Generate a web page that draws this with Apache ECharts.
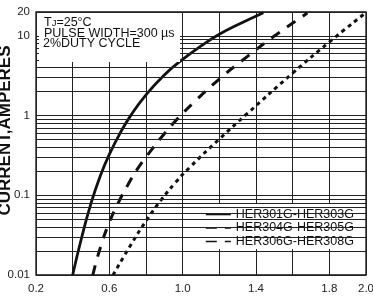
<!DOCTYPE html>
<html>
<head>
<meta charset="utf-8">
<script src="https://cdn.jsdelivr.net/npm/echarts@6/dist/echarts.min.js"></script>
<style>
html,body{margin:0;padding:0;background:#fff;}
#c{width:373px;height:299px;}
</style>
</head>
<body>
<div id="c"></div>
<script>
// ---- data ----
const seriesNames = ['HER301G-HER303G', 'HER304G-HER305G', 'HER306G-HER308G'];
const solidCurve = [[0.40,0.01],[0.45,0.0302],[0.50,0.0794],[0.55,0.174],[0.60,0.327],[0.66,0.61],[0.72,1.03],[0.80,1.82],[0.90,3.24],[1.0,5.08],[1.1,7.5],[1.2,10.5],[1.3,13.8],[1.44,19.6]];
const dashedCurve = [[0.51,0.01],[0.55,0.0217],[0.60,0.0458],[0.65,0.0815],[0.70,0.134],[0.76,0.226],[0.83,0.372],[0.90,0.594],[0.97,0.904],[1.05,1.39],[1.2,2.88],[1.35,5.46],[1.5,9.98],[1.68,19.4]];
const dottedCurve = [[0.62,0.01],[0.72,0.0245],[0.80,0.0476],[0.88,0.086],[0.96,0.144],[1.04,0.226],[1.2,0.508],[1.35,1.05],[1.6,3.42],[1.8,8.4],[2.0,19.7]];
const xTickLabels = [0.2, 0.6, 1.0, 1.4, 1.8, 2.0];
const yTickLabels = [0.01, 0.1, 1, 10, 20];
const minorGridValues = [0.02,0.03,0.04,0.05,0.06,0.07,0.08,0.09,0.2,0.3,0.4,0.5,0.6,0.7,0.8,0.9,2,3,4,5,6,7,8,9];
const noteLines = ['PULSE WIDTH=300 µs', '2%DUTY CYCLE'];

const FONT = 'Liberation Sans, Arial, sans-serif';
const INK = '#111';
const chart = echarts.init(document.getElementById('c'), null, {renderer: 'canvas'});

const curveStyles = [
  {type: 'solid', width: 2.8},
  {type: [10, 9], width: 3},
  {type: [4, 4], width: 3}
];
const curves = [solidCurve, dashedCurve, dottedCurve];

const series = curves.map((d, i) => ({
  name: seriesNames[i],
  type: 'line',
  data: d,
  smooth: 0.5,
  showSymbol: false,
  symbol: 'none',
  z: 3,
  lineStyle: Object.assign({color: INK, cap: 'butt'}, curveStyles[i]),
  itemStyle: {color: INK}
}));
series.push({
  name: 'minor-grid',
  type: 'line',
  data: [],
  z: 1,
  silent: true,
  markLine: {
    silent: true,
    symbol: ['none', 'none'],
    label: {show: false},
    lineStyle: {color: '#222', width: 1, type: 'solid'},
    data: minorGridValues.map(v => ({yAxis: v}))
  }
});

const option = {
  animation: false,
  backgroundColor: '#fff',
  grid: {left: 36, right: 7, top: 12, bottom: 24, containLabel: false, outerBoundsMode: 'none',
         show: true, borderColor: INK, borderWidth: 1.3, backgroundColor: '#fff'},
  xAxis: {
    type: 'value', min: 0.2, max: 2.0, interval: 0.2,
    axisLine: {show: false}, axisTick: {show: false},
    splitLine: {show: true, lineStyle: {color: '#222', width: 1}},
    axisLabel: {
      margin: 8, fontSize: 11.5, color: '#222', fontFamily: FONT, showMaxLabel: true, showMinLabel: true,
      hideOverlap: false,
      formatter: v => xTickLabels.some(t => Math.abs(t - v) < 1e-6) ? v.toFixed(1) : ''
    }
  },
  yAxis: {
    type: 'log', logBase: 10, min: 0.01, max: 20,
    axisLine: {show: false}, axisTick: {show: false},
    splitLine: {show: true, lineStyle: {color: '#222', width: 1}},
    axisLabel: {
      margin: 6, fontSize: 11.5, color: '#222', fontFamily: FONT, showMaxLabel: true,
      formatter: v => {
        const t = yTickLabels.find(t => Math.abs(Math.log10(t) - Math.log10(v)) < 1e-3);
        return t === undefined ? '' : String(t);
      }
    },
    name: 'CURRENT,AMPERES', nameLocation: 'middle', nameGap: 22, nameRotate: 90, nameMoveOverlap: false,
    nameTextStyle: {fontWeight: 'bold', fontSize: 17, fontFamily: FONT, color: INK, padding: [0, 0, 0, 26]}
  },
  legend: {
    orient: 'vertical', left: 195, top: 203,
    backgroundColor: '#fff', borderWidth: 0,
    padding: [5, 9, 1, 10], itemGap: 0.5, itemWidth: 25, itemHeight: 10,
    selectedMode: false,
    itemStyle: {opacity: 0},
    textStyle: {fontSize: 12.5, fontFamily: FONT, color: INK, lineHeight: 13},
    data: [
      {name: seriesNames[0], itemStyle: {opacity: 0}, lineStyle: {type: 'solid', width: 1.6, color: INK}},
      {name: seriesNames[1], itemStyle: {opacity: 0}, lineStyle: {type: [11, 8], width: 1.6, color: INK}},
      {name: seriesNames[2], itemStyle: {opacity: 0}, lineStyle: {type: [11, 8], width: 1.6, color: INK}}
    ]
  },
  graphic: [
    {type: 'rect', left: 39, top: 13, z: 10, shape: {width: 141, height: 49}, style: {fill: '#fff'}},
    {type: 'text', left: 44, top: 16, z: 11, style: {
      text: '{n|T}{s|J}{n|=25°C}',
      rich: {n: {fontSize: 12.5, fontFamily: FONT, fill: INK}, s: {fontSize: 9.5, fontFamily: FONT, fill: INK, verticalAlign: 'bottom', padding: [0, 0, 1, 0]}}
    }},
    {type: 'text', left: 44, top: 27, z: 11, style: {text: noteLines[0], font: '12.5px ' + FONT, fill: INK}},
    {type: 'text', left: 43, top: 37, z: 11, style: {text: noteLines[1], font: '12.5px ' + FONT, fill: INK}}
  ],
  series: series
};
chart.setOption(option);
</script>
</body>
</html>
